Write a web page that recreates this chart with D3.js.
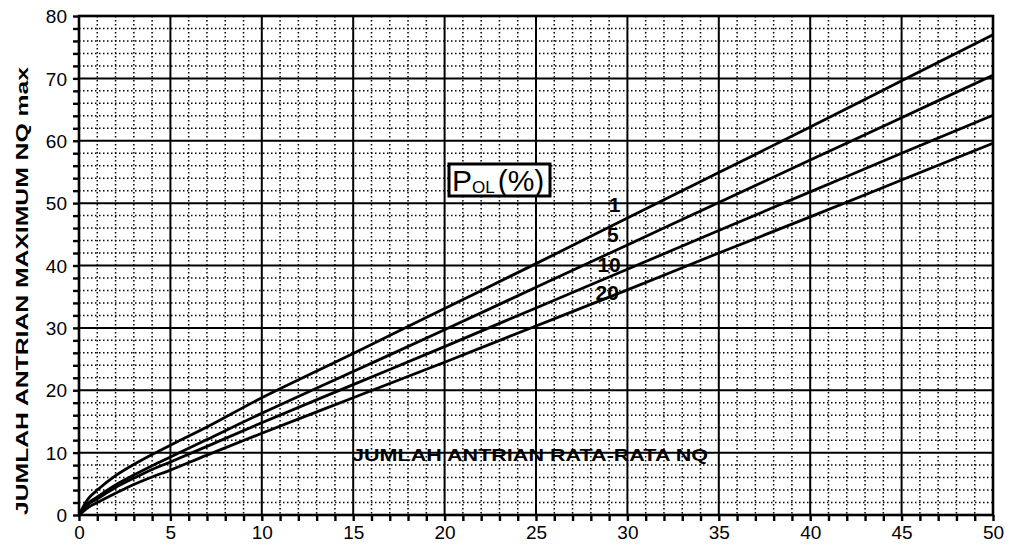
<!DOCTYPE html>
<html><head><meta charset="utf-8">
<script src="https://cdn.jsdelivr.net/npm/d3@7"></script>
<style>body{margin:0;background:#fff}svg{display:block}</style>
</head><body>
<svg id="c" width="1012" height="547"></svg>
<script>
const xValues   = [0, 0.5, 1, 2, 3, 4, 5, 7, 10, 15, 20, 25, 30, 35, 40, 45, 50];
const pol1      = [0, 2.6, 4.0, 6.3, 8.1, 9.7, 11.2, 14.1, 18.8, 25.9, 33.1, 40.3, 47.6, 54.9, 62.2, 69.6, 77.0];
const pol5      = [0, 1.9, 2.9, 4.8, 6.4, 7.9, 9.3, 12.1, 16.3, 23.0, 29.7, 36.5, 43.3, 50.1, 56.9, 63.7, 70.5];
const pol10     = [0, 1.7, 2.6, 4.4, 5.9, 7.3, 8.5, 11.0, 14.8, 20.9, 27.0, 33.2, 39.4, 45.6, 51.8, 58.0, 64.1];
const pol20     = [0, 1.2, 2.0, 3.5, 4.9, 6.1, 7.2, 9.6, 13.1, 18.8, 24.5, 30.3, 36.1, 42.0, 47.8, 53.7, 59.6];
const seriesNames = ["1", "5", "10", "20"];
const xTickLabels = [0, 5, 10, 15, 20, 25, 30, 35, 40, 45, 50];
const yTickLabels = [0, 10, 20, 30, 40, 50, 60, 70, 80];
const xTitle = "JUMLAH ANTRIAN RATA-RATA NQ";
const yTitle = "JUMLAH ANTRIAN MAXIMUM NQ max";

const svg = d3.select("#c");
const m = {l:79, r:19, t:16, b:32};
const W = 1012, H = 547;
const x = d3.scaleLinear().domain([0,50]).range([m.l, W-m.r]);
const y = d3.scaleLinear().domain([0,80]).range([H-m.b, m.t]);
const font = "Liberation Sans, Arial, Helvetica, sans-serif";

const g = svg.append("g");
// minor dotted grid
g.selectAll(".mx").data(d3.range(1,50).filter(v=>v%5)).join("line")
  .attr("x1",d=>x(d)).attr("x2",d=>x(d)).attr("y1",y(80)).attr("y2",y(0))
  .attr("stroke","#000").attr("stroke-width",1.5).attr("stroke-dasharray","1.5,2.5");
g.selectAll(".my").data(d3.range(2,80,2).filter(v=>v%10)).join("line")
  .attr("y1",d=>y(d)).attr("y2",d=>y(d)).attr("x1",x(0)).attr("x2",x(50))
  .attr("stroke","#000").attr("stroke-width",1.5).attr("stroke-dasharray","1.5,2.5");
// major grid
g.selectAll(".Mx").data(d3.range(5,50,5)).join("line")
  .attr("x1",d=>x(d)).attr("x2",d=>x(d)).attr("y1",y(80)).attr("y2",y(0))
  .attr("stroke","#000").attr("stroke-width",2);
g.selectAll(".My").data(d3.range(10,80,10)).join("line")
  .attr("y1",d=>y(d)).attr("y2",d=>y(d)).attr("x1",x(0)).attr("x2",x(50))
  .attr("stroke","#000").attr("stroke-width",2);

// axes
const xAxis = d3.axisBottom(x).tickValues(d3.range(0,51,1)).tickSize(6)
  .tickFormat(d=> xTickLabels.includes(d) ? String(d) : "");
const yAxis = d3.axisLeft(y).tickValues(d3.range(0,81,2)).tickSize(6)
  .tickFormat(d=> yTickLabels.includes(d) ? String(d) : "");
const gx = svg.append("g").attr("transform",`translate(0,${y(0)})`).call(xAxis);
const gy = svg.append("g").attr("transform",`translate(${x(0)},0)`).call(yAxis);
[gx,gy].forEach(a=>{
  a.select(".domain").remove();
  a.selectAll(".tick line").attr("stroke","#000").attr("stroke-width",2.4);
  a.selectAll(".tick text").attr("font-family",font).attr("font-size",19).attr("fill","#000");
});
gx.selectAll(".tick text").attr("dy","0.95em").attr("y",6);
gy.selectAll(".tick text").attr("x",-12).attr("dy","0.35em");

// frame
svg.append("rect").attr("x",x(0)).attr("y",y(80)).attr("width",x(50)-x(0)).attr("height",y(0)-y(80))
  .attr("fill","none").attr("stroke","#000").attr("stroke-width",2.6);

// curves
const all = [pol1,pol5,pol10,pol20];
const line = d3.line().x((d,i)=>x(xValues[i])).y(d=>y(d)).curve(d3.curveCatmullRom.alpha(0.5));
svg.selectAll(".curve").data(all).join("path")
  .attr("d",d=>line(d)).attr("fill","none").attr("stroke","#000").attr("stroke-width",2.8);

// curve labels
const labelPos = [[29.3,49.7],[29.2,44.9],[29.0,40.1],[28.9,35.7]];
svg.selectAll(".lab").data(seriesNames).join("text")
  .attr("x",(d,i)=>x(labelPos[i][0])).attr("y",(d,i)=>y(labelPos[i][1]))
  .attr("text-anchor","middle").attr("dy","0.35em")
  .attr("font-family",font).attr("font-size",21).attr("font-weight","bold").text(d=>d);

// legend box
svg.append("rect").attr("x",449).attr("y",164).attr("width",101).attr("height",32)
  .attr("fill","#fff").attr("stroke","#000").attr("stroke-width",3);
const lt = svg.append("text").attr("x",452).attr("y",191).attr("font-family",font).attr("font-size",30);
lt.append("tspan").text("P");
lt.append("tspan").attr("font-size",17).attr("dy",2).text("OL");
lt.append("tspan").attr("dy",-2).attr("dx",3).text("(%)");

// titles
svg.append("text").attr("x",530).attr("y",461).attr("text-anchor","middle")
  .attr("font-family",font).attr("font-size",17).attr("font-weight","bold")
  .attr("textLength",356).attr("lengthAdjust","spacingAndGlyphs").text(xTitle);
svg.append("text").attr("transform",`translate(28,${291}) rotate(-90)`).attr("text-anchor","middle")
  .attr("font-family",font).attr("font-size",17).attr("font-weight","bold")
  .attr("textLength",448).attr("lengthAdjust","spacingAndGlyphs").text(yTitle);
</script>
</body></html>
